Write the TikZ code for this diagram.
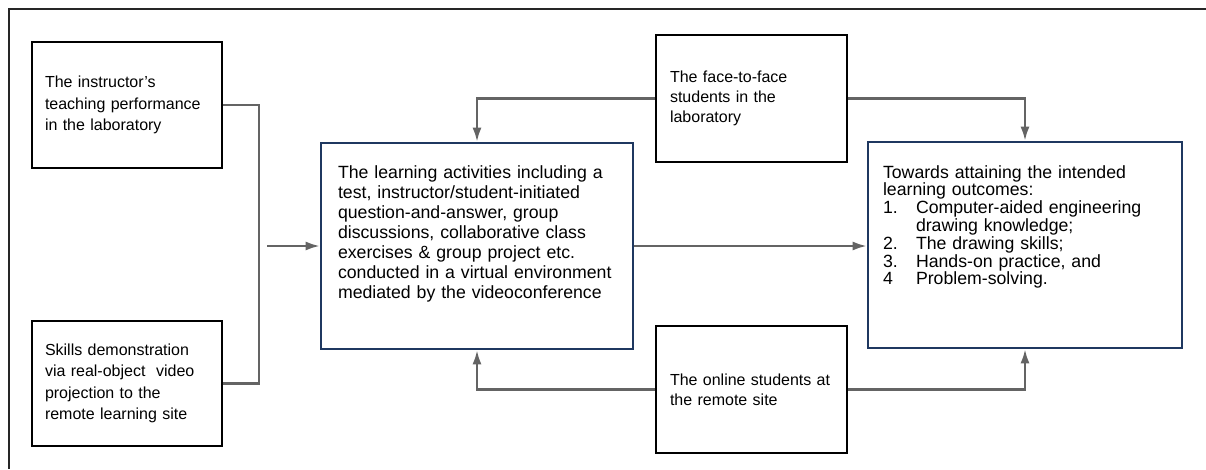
\documentclass[tikz,border=0pt]{standalone}
\usepackage{fontspec}
\setmainfont{Liberation Sans}
\usetikzlibrary{positioning}
\usetikzlibrary{arrows.meta}
\definecolor{navy}{RGB}{31,56,96}
\definecolor{wire}{RGB}{100,100,100}

\begin{document}
\begin{tikzpicture}[
    x=1pt, y=-1pt,
    src/.style={rectangle, draw=black, line width=2pt, inner xsep=13pt, inner ysep=0pt,
        align=left, font=\fontsize{16}{21.5}\selectfont},
    grp/.style={src, inner xsep=14pt, font=\fontsize{16}{20}\selectfont},
    main/.style={rectangle, draw=navy, line width=2.6pt, inner ysep=0pt, align=left},
    link/.style={draw=wire, line width=2.2pt},
    >={Latex[length=14pt, width=9pt]}
]
    \useasboundingbox (0,0) rectangle (1206,469);
    % open frame: only top and left edges show
    \draw[line width=2.4pt, black!85] (1206,9) -- (9,9) -- (9,469);

    \node[src, text width=164pt, minimum height=126pt] (instr) at (127,105)
        {The instructor's\\ teaching performance\\ in the laboratory};
    \node[src, text width=164pt, minimum height=125pt] (skill) at (127,383.5)
        {Skills demonstration\\ via real-object \ video\\ projection to the\\ remote learning site};

    \node[grp, text width=163pt, minimum height=127pt] (face) at (751.5,98.5)
        {The face-to-face\\ students in the\\ laboratory};
    \node[grp, text width=163pt, minimum height=127pt] (online) at (751.5,389.5)
        {The online students at\\ the remote site};

    \node[main, inner xsep=17pt, text width=278pt, minimum height=206pt,
        font=\fontsize{17.7}{20}\selectfont] (act) at (477,246)
        {The learning activities including a\\ test, instructor/student-initiated\\
         question-and-answer, group\\ discussions, collaborative class\\
         exercises \& group project etc.\\ conducted in a virtual environment\\
         mediated by the videoconference\\[8pt]\mbox{}};
    \node[main, inner xsep=15pt, text width=284pt, minimum height=206pt,
        font=\fontsize{17.7}{17.8}\selectfont] (out) at (1025,245)
        {Towards attaining the intended\\ learning outcomes:\\
         \makebox[33pt][l]{1.}Computer-aided engineering\\
         \hspace*{33pt}drawing knowledge;\\
         \makebox[33pt][l]{2.}The drawing skills;\\
         \makebox[33pt][l]{3.}Hands-on practice, and\\
         \makebox[33pt][l]{4}Problem-solving.\\[22pt]\mbox{}};

    \coordinate (brk) at (259,246);
    \coordinate (brkout) at (267,246);

    \draw[link] (instr.east) -| (brk) |- (skill.east);
    \draw[link, ->] (brkout) -- (act.west);
    \draw[link, ->] (act.east) -- (act.east -| out.west);
    \draw[link, ->] (face.west) -| (act.north);
    \draw[link, ->] (face.east) -| (out.north);
    \draw[link, ->] (online.west) -| (act.south);
    \draw[link, ->] (online.east) -| (out.south);
\end{tikzpicture}
\end{document}
